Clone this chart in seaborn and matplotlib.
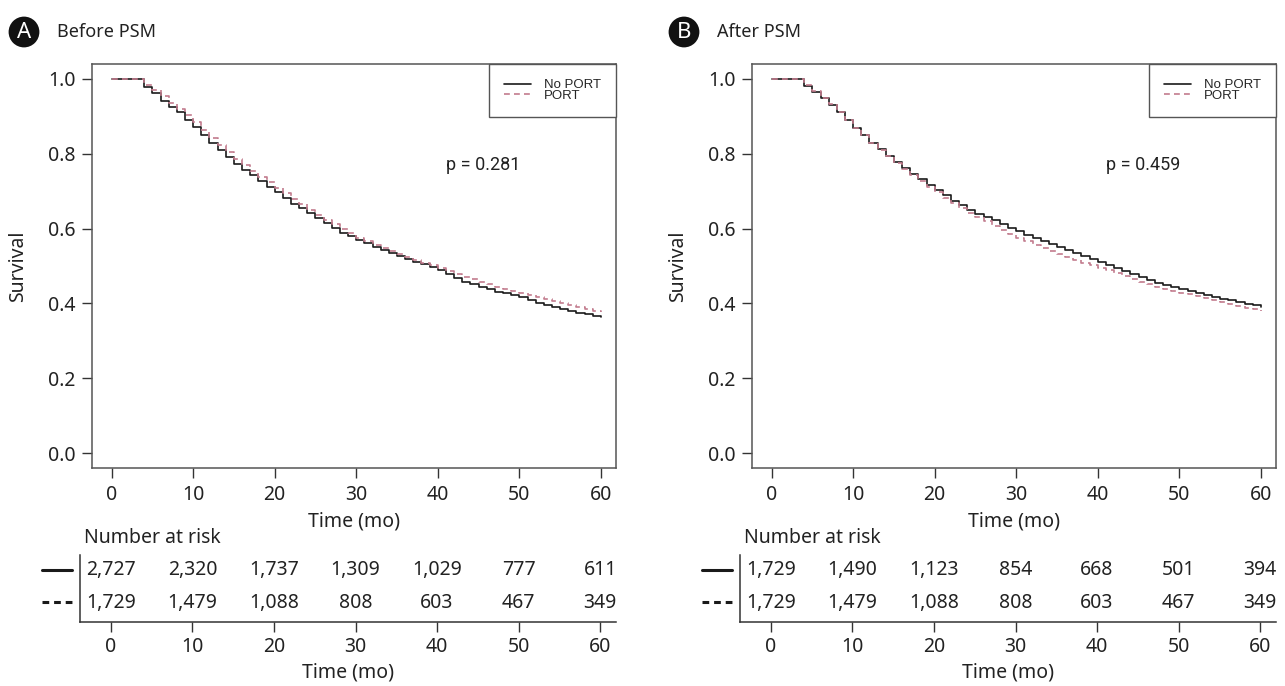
import numpy as np
import pandas as pd
import matplotlib
matplotlib.use('Agg')
import matplotlib.pyplot as plt
from matplotlib.lines import Line2D
import seaborn as sns

# ---- data ----
months = list(range(61))

surv_a_noport = [1, 1, 1, 1, 0.978, 0.962, 0.941, 0.926, 0.911, 0.890, 0.871, 0.850, 0.828, 0.810,
                 0.792, 0.773, 0.757, 0.742, 0.728, 0.712, 0.697, 0.681, 0.667, 0.654, 0.641, 0.627,
                 0.614, 0.601, 0.589, 0.579, 0.569, 0.561, 0.552, 0.544, 0.536, 0.528, 0.520, 0.512,
                 0.505, 0.498, 0.490, 0.479, 0.468, 0.458, 0.451, 0.445, 0.438, 0.431, 0.427, 0.422,
                 0.416, 0.409, 0.402, 0.396, 0.390, 0.385, 0.380, 0.375, 0.371, 0.366, 0.363]
surv_a_port = [1, 1, 1, 1, 0.985, 0.970, 0.955, 0.937, 0.921, 0.903, 0.884, 0.863, 0.843, 0.824,
               0.805, 0.787, 0.770, 0.754, 0.739, 0.724, 0.709, 0.694, 0.679, 0.665, 0.651, 0.637,
               0.624, 0.611, 0.598, 0.587, 0.576, 0.566, 0.557, 0.548, 0.540, 0.532, 0.524, 0.516,
               0.509, 0.502, 0.495, 0.487, 0.479, 0.471, 0.464, 0.457, 0.451, 0.445, 0.439, 0.434,
               0.428, 0.423, 0.418, 0.412, 0.407, 0.401, 0.396, 0.391, 0.386, 0.381, 0.377]
surv_b_noport = [1, 1, 1, 1, 0.981, 0.965, 0.948, 0.930, 0.911, 0.890, 0.870, 0.850, 0.830, 0.812,
                 0.795, 0.778, 0.762, 0.747, 0.732, 0.717, 0.703, 0.689, 0.675, 0.662, 0.650, 0.640,
                 0.632, 0.622, 0.612, 0.602, 0.593, 0.584, 0.575, 0.566, 0.558, 0.550, 0.542, 0.534,
                 0.527, 0.520, 0.512, 0.503, 0.494, 0.486, 0.478, 0.470, 0.462, 0.455, 0.449, 0.443,
                 0.438, 0.433, 0.428, 0.423, 0.418, 0.413, 0.408, 0.403, 0.399, 0.395, 0.391]
surv_b_port = [1, 1, 1, 1, 0.985, 0.968, 0.950, 0.932, 0.912, 0.891, 0.870, 0.850, 0.830, 0.811,
               0.793, 0.776, 0.759, 0.743, 0.727, 0.712, 0.697, 0.682, 0.668, 0.655, 0.643, 0.631,
               0.619, 0.607, 0.596, 0.585, 0.575, 0.566, 0.557, 0.548, 0.540, 0.532, 0.524, 0.517,
               0.509, 0.502, 0.495, 0.488, 0.480, 0.473, 0.465, 0.458, 0.451, 0.445, 0.439, 0.434,
               0.429, 0.424, 0.419, 0.414, 0.409, 0.404, 0.399, 0.394, 0.389, 0.384, 0.379]

risk_times = [0, 10, 20, 30, 40, 50, 60]
risk_a_noport = [2727, 2320, 1737, 1309, 1029, 777, 611]
risk_a_port = [1729, 1479, 1088, 808, 603, 467, 349]
risk_b_noport = [1729, 1490, 1123, 854, 668, 501, 394]
risk_b_port = [1729, 1479, 1088, 808, 603, 467, 349]

groups = ['No PORT', 'PORT']
panels = [
    ('A', 'Before PSM', 'p = 0.281', surv_a_noport, surv_a_port, risk_a_noport, risk_a_port),
    ('B', 'After PSM', 'p = 0.459', surv_b_noport, surv_b_port, risk_b_noport, risk_b_port),
]

# ---- style ----
sns.set_style('white')
plt.rcParams['font.family'] = ['Noto Sans', 'DejaVu Sans']
W, H = 1285, 686
fig = plt.figure(figsize=(W / 100, H / 100), dpi=100)

line_colors = {'No PORT': '#1a1a1a', 'PORT': '#c27c8e'}
line_dashes = {'No PORT': '', 'PORT': (3.5, 2.5)}
spine_col = '#555555'
text_col = '#222222'


def px_axes(x0, x1, top, bottom):
    return fig.add_axes([x0 / W, 1 - bottom / H, (x1 - x0) / W, (bottom - top) / H])


offsets = [0, 660]
for (letter, title, ptext, s_no, s_po, r_no, r_po), dx in zip(panels, offsets):
    # ---- survival curves ----
    ax = px_axes(92 + dx, 616 + dx, 64, 468)
    df = pd.DataFrame({
        'Month': months * 2,
        'Survival': s_no + s_po,
        'Group': ['No PORT'] * len(months) + ['PORT'] * len(months),
    })
    sns.lineplot(data=df, x='Month', y='Survival', hue='Group', style='Group',
                 hue_order=groups, style_order=groups, palette=line_colors,
                 dashes=line_dashes, drawstyle='steps-post', linewidth=1.2,
                 legend=False, ax=ax)
    ax.set_xlim(-2.4, 61.85)
    ax.set_ylim(-0.04, 1.04)
    ax.set_xticks(risk_times)
    ax.set_yticks([0, 0.2, 0.4, 0.6, 0.8, 1.0])
    ax.set_yticklabels(['0.0', '0.2', '0.4', '0.6', '0.8', '1.0'])
    ax.tick_params(axis='both', length=7, width=1, color='#333333',
                   labelsize=14, labelcolor=text_col, pad=5, bottom=True, left=True)
    for sp in ax.spines.values():
        sp.set_color(spine_col)
        sp.set_linewidth(1.1)
    ax.set_xlabel('Time (mo)', fontsize=14, color=text_col, labelpad=5)
    ax.set_ylabel('Survival', fontsize=14, color=text_col, labelpad=14)
    ax.text(41, 0.77, ptext, fontsize=13, family='Roboto', color=text_col,
            va='center', ha='left')
    leg = ax.legend(ax.lines[:2], groups, loc='upper right', bbox_to_anchor=(1, 1),
                    borderaxespad=0, fancybox=False, framealpha=1, edgecolor=spine_col,
                    prop={'family': 'Liberation Sans', 'size': 9.5},
                    handlelength=2.0, handletextpad=1.0, labelspacing=-0.15,
                    borderpad=1.15)
    leg.get_frame().set_linewidth(1.0)

    # ---- panel header ----
    fig.text((24 + dx) / W, 1 - 32 / H, letter, color='white', fontsize=16,
             fontweight='bold', ha='center', va='center',
             bbox=dict(boxstyle='circle,pad=0.22', fc='#111111', ec='none'))
    fig.text((57 + dx) / W, 1 - 32 / H, title, fontsize=13, fontweight='semibold',
             color=text_col, ha='left', va='center')

    # ---- number at risk table ----
    tax = px_axes(80 + dx, 616 + dx, 555, 622)
    tax.set_xlim(-3.8, 61.95)
    tax.set_ylim(0, 1)
    for t, a, b in zip(risk_times, r_no, r_po):
        tax.text(t, 0.77, f'{a:,}', ha='center', va='center', fontsize=14, color=text_col)
        tax.text(t, 0.29, f'{b:,}', ha='center', va='center', fontsize=14, color=text_col)
    tax.set_xticks(risk_times)
    tax.set_yticks([])
    tax.tick_params(axis='x', length=7, width=1, color='#333333', labelsize=14,
                    labelcolor=text_col, pad=4, bottom=True)
    for side in ['top', 'right']:
        tax.spines[side].set_visible(False)
    for side in ['left', 'bottom']:
        tax.spines[side].set_color('#333333')
        tax.spines[side].set_linewidth(1.1)
    tax.set_xlabel('Time (mo)', fontsize=14, color=text_col, labelpad=4)
    fig.text((84 + dx) / W, 1 - 538 / H, 'Number at risk', fontsize=14,
             color=text_col, ha='left', va='center')
    fig.add_artist(Line2D([(42 + dx) / W, (72 + dx) / W], [1 - 570 / H] * 2,
                          color='#1a1a1a', linewidth=2.2))
    fig.add_artist(Line2D([(42 + dx) / W, (72 + dx) / W], [1 - 602 / H] * 2,
                          color='#1a1a1a', linewidth=2.2, dashes=(2.2, 1.6)))

fig.savefig('out.png', dpi=100)
